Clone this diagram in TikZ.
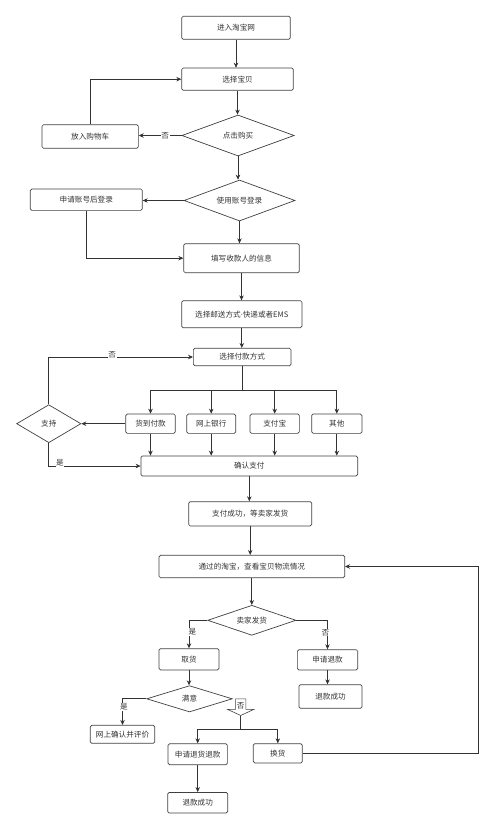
\documentclass[tikz,border=0pt]{standalone}
\usepackage{fontspec}
\newfontfamily\cjk{Noto Sans CJK SC}
\newfontfamily\latin{Noto Sans}
\usepackage{tikz}
\usetikzlibrary{shapes, arrows, positioning}
\usetikzlibrary{arrows.meta}

\begin{document}
\begin{tikzpicture}[x=1pt, y=-1pt, font=\cjk\fontsize{7.6}{9}\selectfont, text=black!80]

\tikzstyle{process} = [rectangle, rounded corners=1.5pt, draw=black!75, line width=.7pt, inner sep=1pt]
\tikzstyle{decision} = [diamond, draw=black!75, line width=.7pt, inner sep=0pt]
\tikzstyle{blockarrow} = [single arrow, shape border rotate=270, draw=black!75, line width=.6pt, inner sep=1pt, single arrow head extend=8pt, single arrow tip angle=130, minimum height=16.6pt]
\tikzstyle{answer} = [fill=white, inner sep=.5pt]
\tikzstyle{wire} = [line width=.7pt, draw=black!80]
\tikzstyle{arrow} = [line width=.7pt, draw=black!80, ->, >={Stealth[length=5pt, width=4.5pt]}]

\useasboundingbox (0,0) rectangle (500,829);

% Main column
\node (enter) [process, minimum width=108.6pt, minimum height=23pt] at (236,27.8) {进入淘宝网};
\node (select) [process, minimum width=111.6pt, minimum height=22.3pt] at (237.5,79.2) {选择宝贝};
\node (buy) [decision, aspect=2.7, minimum width=112.3pt, minimum height=41pt] at (238,135.5) {点击购买};
\node (cart) [process, minimum width=96.3pt, minimum height=23.6pt] at (90.2,136.5) {放入购物车};
\node (login) [decision, aspect=2.7, minimum width=111pt, minimum height=41pt] at (239.5,200.5) {使用账号登录};
\node (register) [process, minimum width=112pt, minimum height=21.3pt] at (86.3,199.7) {申请账号后登录};
\node (info) [process, minimum width=115.6pt, minimum height=29pt] at (241.5,258.2) {填写收款人的信息};
\node (ship) [process, minimum width=120.3pt, minimum height=27pt] at (241.8,314.2) {选择邮送方式{\latin·}快递或者EMS};
\node (pay) [process, minimum width=97.7pt, minimum height=17.4pt] at (242.2,357) {选择付款方式};

% Payment options
\node (cod) [process, minimum width=49.6pt, minimum height=19.3pt] at (150.5,423.7) {货到付款};
\node (bank) [process, minimum width=49pt, minimum height=19.3pt] at (211.2,423.7) {网上银行};
\node (alipay) [process, minimum width=49.3pt, minimum height=19.3pt] at (274.7,423.7) {支付宝};
\node (other) [process, minimum width=50.3pt, minimum height=19.3pt] at (336.8,423.7) {其他};
\node (support) [decision, aspect=1.7, minimum width=64.3pt, minimum height=38pt] at (48.8,423.7) {支持};
\node (confirm) [process, minimum width=216.7pt, minimum height=20pt] at (249.3,466) {确认支付};

% After payment
\node (paid) [process, minimum width=123pt, minimum height=24.3pt] at (250.2,513.8) {支付成功，等卖家发货};
\node (track) [process, minimum width=185.7pt, minimum height=22.4pt] at (251.8,566.5) {通过的淘宝，查看宝贝物流情况};
\node (shipped) [decision, aspect=2.9, minimum width=88.3pt, minimum height=30pt] at (251.8,620.3) {卖家发货};
\node (pickup) [process, minimum width=60pt, minimum height=21.3pt] at (189,659.3) {取货};
\node (refund) [process, minimum width=60.3pt, minimum height=20.3pt] at (327.5,659.8) {申请退款};
\node (refunded) [process, minimum width=63pt, minimum height=23.6pt] at (330.5,696.5) {退款成功};
\node (satisfied) [decision, aspect=3.2, minimum width=85.6pt, minimum height=26.3pt] at (189.5,698.8) {满意};
\node (review) [process, minimum width=64.4pt, minimum height=18pt] at (122.5,734.3) {网上确认并评价};
\node (nope) [blockarrow] at (240.7,706) {否};
\node (return) [process, minimum width=59.3pt, minimum height=21pt] at (197.7,754.2) {申请退货退款};
\node (exchange) [process, minimum width=49pt, minimum height=19.3pt] at (277.8,753.3) {换货};
\node (returned) [process, minimum width=60pt, minimum height=20.6pt, below=27pt of return] {退款成功};

% Helper points
\coordinate (paysplit) at (242.2,390);
\coordinate (nosplit) at (240.7,729.3);
\coordinate (backloop) at (478.3,753.3);

% Connect nodes
\draw[arrow] (enter) -- (enter |- select.north);
\draw[arrow] (select) -- (select |- buy.north);
\draw[arrow] (buy) -- (buy |- login.north);
\draw[arrow] (login) -- (login |- info.north);
\draw[arrow] (info) -- (info |- ship.north);
\draw[arrow] (ship) -- (ship |- pay.north);

\draw[arrow] (buy) -- node[answer, pos=.38] {否} (buy -| cart.east);
\draw[arrow] (cart) |- (select);
\draw[arrow] (login) -- (login -| register.east);
\draw[arrow] (register) |- (info);

\draw[wire] (pay) -- (paysplit);
\draw[arrow] (paysplit) -| (cod);
\draw[arrow] (paysplit) -| (bank);
\draw[arrow] (paysplit) -| (alipay);
\draw[arrow] (paysplit) -| (other);

\draw[arrow] (cod) -- (support);
\draw[arrow] (support) |- node[answer, pos=.72, yshift=2pt] {否} (pay);
\draw[arrow] (support) |- node[answer, pos=.56, yshift=3pt] {是} (confirm);

\draw[arrow] (cod) -- (cod |- confirm.north);
\draw[arrow] (bank) -- (bank |- confirm.north);
\draw[arrow] (alipay) -- (alipay |- confirm.north);
\draw[arrow] (other) -- (other |- confirm.north);

\draw[arrow] (confirm) -- (confirm |- paid.north);
\draw[arrow] (paid) -- (paid |- track.north);
\draw[arrow] (track) -- (track |- shipped.north);

\draw[arrow] (shipped) -| node[answer, pos=.71, xshift=3.4pt] {是} (pickup);
\draw[arrow] (shipped) -| node[answer, pos=.71, xshift=-2pt] {否} (refund);
\draw[arrow] (refund) -- (refund |- refunded.north);
\draw[arrow] (pickup) -- (pickup |- satisfied.north);
\draw[arrow] (satisfied) -| node[answer, pos=.66, xshift=1.3pt] {是} (review);

\draw[wire] (nope.tip) -- (nosplit);
\draw[arrow] (nosplit) -| (return);
\draw[arrow] (nosplit) -| (exchange);
\draw[arrow] (return) -- (return |- returned.north);
\draw[arrow] (exchange) -- (backloop) |- (track);

\end{tikzpicture}
\end{document}
